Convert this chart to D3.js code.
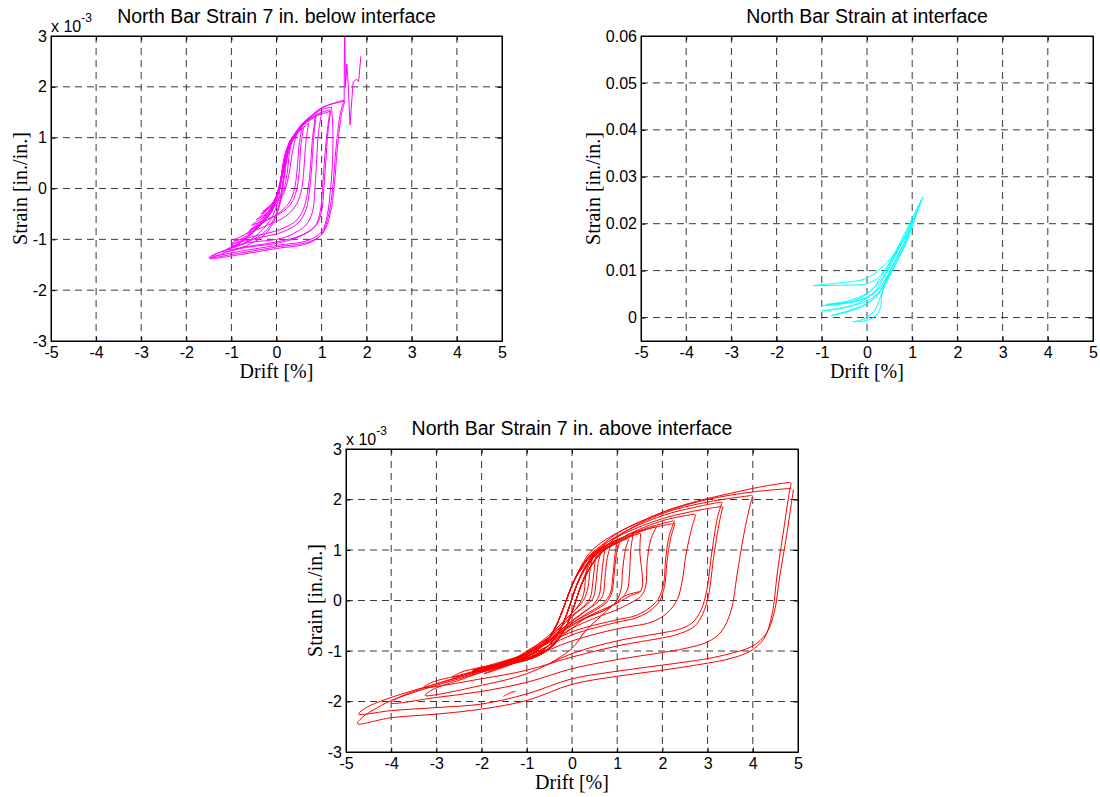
<!DOCTYPE html>
<html><head><meta charset="utf-8">
<script src="https://cdn.jsdelivr.net/npm/d3@7"></script>
<style>body{margin:0;background:#fff;} svg{display:block;}</style>
</head><body>
<svg id="fig" width="1100" height="797"></svg>
<script>
// ---------------- DATA ----------------
// Drift [%] ticks, shared by the three panels
const driftTicks = [-5, -4, -3, -2, -1, 0, 1, 2, 3, 4, 5];
// Strain ticks for panels 1 & 3 (in units of 1e-3, axis multiplier "x 10^-3")
const strainTicksE3 = [-3, -2, -1, 0, 1, 2, 3];
// Strain ticks for panel 2 (in./in.)
const strainTicksInterface = [0, 0.01, 0.02, 0.03, 0.04, 0.05, 0.06];
const panelTitles = ["North Bar Strain 7 in. below interface", "North Bar Strain at interface", "North Bar Strain 7 in. above interface"];
const xLabel = "Drift [%]";
const yLabel = "Strain [in./in.]";

// Panel 1: 7 in. below interface — [drift %, strain x1e-3]
const belowLoops = [
  [[0.3,0.95],[0.22,0.6],[0.17,0.2],[0.1,-0.1],[0.0,-0.25],[-0.15,-0.35],[-0.3,-0.45],[-0.2,-0.38],[-0.05,-0.25],[0.05,-0.05],[0.12,0.3],[0.2,0.7],[0.3,0.95]],
  [[0.35,1.0],[0.28,0.65],[0.22,0.2],[0.14,-0.08],[0.02,-0.25],[-0.15,-0.38],[-0.35,-0.5],[-0.22,-0.42],[-0.06,-0.25],[0.05,-0.02],[0.13,0.35],[0.22,0.72],[0.35,1.0]],
  [[0.45,1.08],[0.36,0.75],[0.28,0.3],[0.2,0.0],[0.1,-0.2],[-0.1,-0.4],[-0.45,-0.62],[-0.3,-0.5],[-0.1,-0.3],[0.05,-0.05],[0.15,0.35],[0.25,0.75],[0.45,1.08]],
  [[0.56,1.18],[0.5,0.85],[0.45,0.3],[0.4,0.0],[0.3,-0.25],[0.1,-0.45],[-0.2,-0.62],[-0.6,-0.82],[-0.4,-0.68],[-0.15,-0.42],[0.0,-0.15],[0.12,0.25],[0.25,0.75],[0.4,1.02],[0.56,1.18]],
  [[0.6,1.2],[0.54,0.85],[0.5,0.3],[0.44,-0.05],[0.32,-0.3],[0.1,-0.48],[-0.2,-0.6],[-0.55,-0.72],[-0.35,-0.6],[-0.12,-0.38],[0.02,-0.1],[0.14,0.3],[0.28,0.8],[0.42,1.06],[0.6,1.2]],
  [[0.71,1.28],[0.65,0.9],[0.6,0.3],[0.56,0.0],[0.45,-0.3],[0.2,-0.55],[-0.2,-0.72],[-0.65,-0.88],[-0.4,-0.72],[-0.15,-0.45],[0.02,-0.15],[0.13,0.25],[0.26,0.78],[0.45,1.08],[0.71,1.28]],
  [[0.86,1.41],[0.8,1.0],[0.74,0.3],[0.7,0.0],[0.62,-0.35],[0.45,-0.62],[0.1,-0.8],[-0.4,-0.92],[-0.95,-1.02],[-0.65,-0.88],[-0.3,-0.62],[-0.05,-0.3],[0.08,0.1],[0.2,0.7],[0.35,1.0],[0.6,1.25],[0.86,1.41]],
  [[0.88,1.44],[0.83,1.05],[0.77,0.3],[0.73,-0.05],[0.66,-0.4],[0.5,-0.66],[0.15,-0.85],[-0.4,-0.97],[-1.0,-1.08],[-0.7,-0.95],[-0.35,-0.68],[-0.07,-0.32],[0.07,0.1],[0.2,0.68],[0.38,1.04],[0.62,1.28],[0.88,1.44]],
  [[1.0,1.48],[0.93,1.1],[0.88,0.4],[0.85,0.0],[0.8,-0.45],[0.65,-0.72],[0.3,-0.92],[0.0,-1.0],[-0.5,-1.05],[-1.0,-1.12],[-0.7,-0.98],[-0.35,-0.7],[-0.08,-0.4],[0.06,0.0],[0.18,0.6],[0.35,1.0],[0.65,1.32],[1.0,1.48]],
  [[1.19,1.55],[1.12,1.1],[1.06,0.5],[1.02,0.0],[0.97,-0.45],[0.85,-0.75],[0.5,-0.95],[0.0,-1.08],[-0.6,-1.15],[-1.2,-1.25],[-0.9,-1.12],[-0.5,-0.85],[-0.1,-0.45],[0.06,0.0],[0.18,0.6],[0.35,1.0],[0.7,1.38],[1.19,1.55]],
  [[1.2,1.52],[1.14,1.1],[1.09,0.5],[1.05,0.0],[1.0,-0.45],[0.88,-0.72],[0.55,-0.92],[0.0,-1.05],[-0.5,-1.12],[-1.1,-1.2],[-0.8,-1.06],[-0.45,-0.8],[-0.1,-0.42],[0.06,0.0],[0.18,0.62],[0.36,1.02],[0.72,1.36],[1.2,1.52]],
  [[1.22,1.6],[1.25,1.2],[1.24,0.5],[1.2,0.0],[1.12,-0.55],[1.0,-0.85],[0.7,-1.02],[0.0,-1.12],[-0.7,-1.22],[-1.45,-1.33],[-1.1,-1.2],[-0.6,-1.02],[-0.2,-0.7],[0.02,-0.3],[0.12,0.3],[0.3,0.85],[0.6,1.3],[1.0,1.55],[1.22,1.6]],
  [[1.5,1.74],[1.42,1.5],[1.32,0.8],[1.25,0.05],[1.16,-0.5],[1.0,-0.9],[0.7,-1.08],[0.0,-1.18],[-0.8,-1.3],[-1.48,-1.38],[-1.1,-1.25],[-0.6,-1.1],[-0.2,-0.85],[0.05,-0.4],[0.15,0.15],[0.3,0.82],[0.45,1.08],[0.7,1.36],[1.0,1.58],[1.5,1.74]],
  [[1.52,1.72],[1.45,1.5],[1.35,0.8],[1.28,0.05],[1.19,-0.5],[1.03,-0.88],[0.72,-1.05],[0.0,-1.15],[-0.8,-1.27],[-1.5,-1.36],[-1.15,-1.22],[-0.65,-1.06],[-0.22,-0.82],[0.04,-0.38],[0.15,0.18],[0.3,0.85],[0.47,1.1],[0.72,1.38],[1.02,1.6],[1.52,1.72]]
];
// End of the record (gauge jumps), drawn with straight segments
const belowSpike = [[1.5,1.74],[1.51,3.3],[1.53,2.0],[1.56,2.45],[1.59,2.05],[1.63,1.25],[1.7,2.1],[1.78,2.15],[1.82,2.1],[1.87,2.6]];

// Panel 2: at interface — [drift %, strain in./in.]
const interfaceLoops = [
  [[-1.2,0.0068],[-0.6,0.0074],[-0.05,0.0082],[0.3,0.0104],[0.6,0.0135],[0.9,0.018],[1.23,0.0256]],
  [[-1.18,0.0068],[-0.5,0.0069],[0.0,0.0072],[0.25,0.0086],[0.5,0.0116],[0.8,0.0165],[1.05,0.0215],[1.23,0.0256]],
  [[1.23,0.0256],[1.0,0.0212],[0.75,0.0163],[0.5,0.0117],[0.3,0.0085],[0.1,0.0058],[-0.3,0.0036],[-1.02,0.0025]],
  [[-1.02,0.0025],[-0.5,0.003],[0.0,0.0042],[0.3,0.0066],[0.55,0.0105],[0.8,0.0155],[1.0,0.0195],[1.2,0.025]],
  [[1.1,0.0225],[0.85,0.0177],[0.6,0.0126],[0.35,0.0081],[0.1,0.0049],[-0.3,0.0026],[-1.0,0.0014]],
  [[-1.0,0.0014],[-0.5,0.0022],[0.0,0.0035],[0.3,0.0058],[0.55,0.0098],[0.8,0.0148],[1.05,0.0205]],
  [[1.0,0.0196],[0.78,0.015],[0.55,0.0104],[0.35,0.0066],[0.1,0.0036],[-0.3,0.0016],[-0.8,0.0004]],
  [[-0.8,0.0004],[-0.4,0.0015],[0.0,0.003],[0.25,0.005],[0.5,0.009],[0.75,0.0135],[0.95,0.0176]],
  [[0.8,0.0155],[0.6,0.0116],[0.42,0.0077],[0.32,0.0044],[0.31,0.0025],[0.2,0.0005],[0.0,-0.0006],[-0.32,-0.0009]],
  [[-0.32,-0.0009],[-0.1,-0.0004],[0.15,0.0013],[0.3,0.0045],[0.45,0.0085],[0.65,0.0126],[0.9,0.0172]],
  [[0.7,0.0135],[0.5,0.0098],[0.3,0.0066],[0.0,0.0044],[-0.4,0.0032],[-0.9,0.0028]],
  [[-0.9,0.0028],[-0.4,0.0036],[0.0,0.0052],[0.3,0.0078],[0.5,0.0112],[0.75,0.016]]
];

// Panel 3: 7 in. above interface — [drift %, strain x1e-3]
const aboveLoops = [
  [[4.85,2.33],[4.8,2.1],[4.7,1.5],[4.55,0.6],[4.42,-0.3],[4.25,-0.75],[3.95,-1.0],[3.5,-1.15],[3.0,-1.24],[2.0,-1.38],[1.0,-1.5],[0.0,-1.66],[-1.0,-1.98],[-2.0,-2.15],[-3.0,-2.25],[-4.0,-2.32],[-4.75,-2.44],[-4.62,-2.3],[-4.3,-2.12],[-4.0,-1.98],[-3.5,-1.82],[-3.0,-1.68],[-2.5,-1.55],[-2.0,-1.42],[-1.5,-1.3],[-1.0,-1.15],[-0.55,-0.92],[-0.25,-0.55],[-0.05,-0.1],[0.1,0.3],[0.3,0.68],[0.55,1.0],[1.0,1.33],[1.5,1.55],[2.0,1.75],[2.5,1.9],[3.0,2.02],[3.5,2.12],[4.0,2.22],[4.5,2.3],[4.83,2.34]],
  [[4.9,2.2],[4.85,1.9],[4.75,1.3],[4.6,0.5],[4.47,-0.25],[4.3,-0.65],[4.0,-0.9],[3.5,-1.05],[3.0,-1.15],[2.0,-1.28],[1.0,-1.4],[0.0,-1.55],[-1.0,-1.85],[-2.0,-2.05],[-3.0,-2.12],[-4.0,-2.18],[-4.72,-2.25],[-4.55,-2.12],[-4.0,-1.92],[-3.0,-1.65],[-2.0,-1.4],[-1.1,-1.15],[-0.68,-0.92],[-0.38,-0.55],[-0.17,-0.1],[0.0,0.3],[0.2,0.68],[0.45,1.0],[1.0,1.34],[2.0,1.74],[3.0,2.0],[4.0,2.15],[4.85,2.22]],
  [[4.0,2.08],[3.93,1.85],[3.8,1.3],[3.65,0.5],[3.52,-0.2],[3.3,-0.62],[3.0,-0.82],[2.5,-0.95],[2.0,-1.03],[1.0,-1.17],[0.0,-1.35],[-1.0,-1.62],[-2.0,-1.8],[-3.0,-1.92],[-4.0,-2.03],[-3.85,-1.93],[-3.5,-1.8],[-3.0,-1.65],[-2.0,-1.38],[-0.9,-1.15],[-0.45,-0.92],[-0.15,-0.55],[0.05,-0.1],[0.2,0.3],[0.4,0.66],[0.65,0.98],[1.1,1.32],[2.0,1.72],[3.0,1.95],[3.98,2.08]],
  [[3.32,1.95],[3.22,1.65],[3.1,1.0],[2.98,0.2],[2.86,-0.18],[2.65,-0.45],[2.33,-0.58],[2.0,-0.64],[1.0,-0.8],[0.0,-1.05],[-1.0,-1.45],[-2.0,-1.68],[-3.25,-1.88],[-3.05,-1.75],[-2.5,-1.58],[-2.0,-1.42],[-1.0,-1.15],[-0.55,-0.92],[-0.25,-0.55],[-0.05,-0.1],[0.1,0.3],[0.3,0.65],[0.55,0.97],[1.0,1.28],[2.0,1.68],[3.0,1.9],[3.3,1.95]],
  [[3.34,1.86],[3.26,1.55],[3.14,0.9],[3.02,0.1],[2.9,-0.25],[2.7,-0.52],[2.3,-0.68],[2.0,-0.74],[1.0,-0.9],[0.0,-1.12],[-1.0,-1.38],[-2.0,-1.55],[-3.28,-1.72],[-3.1,-1.62],[-2.5,-1.48],[-2.0,-1.36],[-1.1,-1.15],[-0.68,-0.92],[-0.38,-0.55],[-0.17,-0.1],[0.0,0.3],[0.2,0.65],[0.45,0.95],[1.0,1.26],[2.0,1.62],[3.0,1.82],[3.32,1.86]],
  [[2.74,1.71],[2.64,1.4],[2.52,0.9],[2.44,0.4],[2.33,0.02],[2.1,-0.25],[1.75,-0.43],[1.0,-0.56],[0.0,-0.8],[-1.0,-1.15],[-2.0,-1.38],[-2.65,-1.52],[-2.45,-1.42],[-2.0,-1.32],[-0.9,-1.15],[-0.45,-0.92],[-0.15,-0.55],[0.05,-0.1],[0.2,0.3],[0.4,0.65],[0.65,0.95],[1.1,1.24],[2.0,1.58],[2.72,1.71]],
  [[2.27,1.58],[2.15,1.28],[2.07,0.8],[2.03,0.35],[1.9,0.02],[1.66,-0.18],[1.37,-0.31],[1.0,-0.38],[0.0,-0.62],[-1.0,-1.05],[-2.2,-1.4],[-2.0,-1.33],[-1.0,-1.15],[-0.55,-0.92],[-0.25,-0.55],[-0.05,-0.1],[0.1,0.3],[0.3,0.65],[0.55,0.95],[1.0,1.2],[1.6,1.42],[2.25,1.58]],
  [[2.28,1.53],[2.18,1.22],[2.1,0.75],[2.05,0.3],[1.93,-0.02],[1.7,-0.22],[1.4,-0.35],[1.0,-0.43],[0.0,-0.68],[-1.0,-1.1],[-2.22,-1.44],[-2.0,-1.36],[-1.1,-1.15],[-0.68,-0.92],[-0.38,-0.55],[-0.17,-0.1],[0.0,0.3],[0.2,0.65],[0.45,0.93],[1.0,1.2],[1.6,1.4],[2.27,1.53]],
  [[1.87,1.46],[1.74,1.2],[1.66,0.74],[1.63,0.28],[1.52,0.08],[1.29,-0.05],[1.0,-0.18],[0.5,-0.35],[0.0,-0.55],[-0.5,-0.82],[-1.0,-1.05],[-2.2,-1.38],[-1.8,-1.3],[-0.9,-1.15],[-0.45,-0.92],[-0.15,-0.55],[0.05,-0.1],[0.2,0.3],[0.4,0.65],[0.65,0.95],[1.1,1.2],[1.5,1.36],[1.85,1.46]],
  [[1.52,1.33],[1.5,1.0],[1.53,0.2],[1.3,0.1],[1.0,-0.05],[0.5,-0.25],[0.0,-0.48],[-0.5,-0.78],[-1.0,-1.05],[-2.2,-1.42],[-1.8,-1.32],[-1.0,-1.15],[-0.55,-0.92],[-0.25,-0.55],[-0.05,-0.1],[0.1,0.3],[0.3,0.65],[0.55,0.93],[1.0,1.16],[1.5,1.33]],
  [[1.35,1.3],[1.3,1.0],[1.27,0.5],[1.22,0.2],[1.05,0.0],[0.7,-0.2],[0.3,-0.35],[0.0,-0.55],[-0.5,-0.88],[-1.0,-1.12],[-1.95,-1.45],[-1.6,-1.35],[-1.1,-1.17],[-0.68,-0.92],[-0.38,-0.55],[-0.17,-0.1],[0.0,0.3],[0.2,0.65],[0.45,0.93],[1.0,1.18],[1.35,1.3]],
  [[1.26,1.23],[1.18,1.0],[1.12,0.6],[1.08,0.2],[0.95,-0.05],[0.7,-0.2],[0.3,-0.35],[0.0,-0.5],[-0.5,-0.8],[-1.0,-1.05],[-2.0,-1.38],[-1.7,-1.3],[-0.9,-1.13],[-0.45,-0.9],[-0.15,-0.55],[0.05,-0.1],[0.2,0.3],[0.4,0.65],[0.7,0.98],[1.24,1.23]],
  [[1.05,1.15],[0.98,0.9],[0.93,0.5],[0.88,0.15],[0.75,-0.05],[0.5,-0.2],[0.0,-0.45],[-0.5,-0.78],[-1.0,-1.05],[-1.8,-1.35],[-1.5,-1.28],[-1.0,-1.15],[-0.55,-0.92],[-0.25,-0.55],[-0.05,-0.1],[0.1,0.3],[0.3,0.65],[0.6,0.95],[1.03,1.15]],
  [[1.0,1.2],[0.95,0.9],[0.9,0.45],[0.85,0.15],[0.7,-0.05],[0.4,-0.22],[0.0,-0.45],[-0.5,-0.8],[-1.0,-1.08],[-1.6,-1.3],[-2.2,-1.42],[-1.9,-1.35],[-1.4,-1.25],[-1.1,-1.16],[-0.68,-0.92],[-0.38,-0.55],[-0.17,-0.1],[0.0,0.3],[0.2,0.65],[0.5,0.95],[1.0,1.2]],
  [[0.85,1.08],[0.78,0.85],[0.73,0.45],[0.68,0.1],[0.55,-0.05],[0.3,-0.2],[0.0,-0.4],[-0.5,-0.75],[-1.0,-1.02],[-1.6,-1.3],[-1.3,-1.22],[-0.9,-1.12],[-0.45,-0.9],[-0.15,-0.55],[0.05,-0.1],[0.2,0.3],[0.4,0.65],[0.6,0.9],[0.83,1.08]],
  [[0.75,1.1],[0.7,0.85],[0.65,0.45],[0.6,0.1],[0.45,-0.1],[0.2,-0.28],[-0.2,-0.55],[-0.6,-0.85],[-1.2,-1.15],[-2.1,-1.35],[-1.7,-1.28],[-1.0,-1.15],[-0.55,-0.92],[-0.25,-0.55],[-0.05,-0.1],[0.1,0.3],[0.3,0.65],[0.5,0.92],[0.75,1.1]],
  [[0.65,0.98],[0.58,0.75],[0.53,0.35],[0.47,0.05],[0.3,-0.1],[0.0,-0.32],[-0.5,-0.72],[-1.0,-1.0],[-1.4,-1.25],[-1.1,-1.17],[-0.68,-0.92],[-0.38,-0.55],[-0.17,-0.1],[0.0,0.3],[0.2,0.62],[0.4,0.85],[0.63,0.98]],
  [[0.55,0.98],[0.5,0.7],[0.46,0.35],[0.4,0.05],[0.25,-0.12],[0.0,-0.3],[-0.4,-0.65],[-1.0,-1.05],[-1.5,-1.25],[-2.0,-1.4],[-1.6,-1.3],[-0.9,-1.13],[-0.45,-0.9],[-0.15,-0.55],[0.05,-0.1],[0.2,0.3],[0.38,0.7],[0.55,0.98]],
  [[0.45,0.85],[0.4,0.6],[0.35,0.25],[0.25,0.0],[0.0,-0.25],[-0.5,-0.68],[-1.2,-1.2],[-1.0,-1.15],[-0.55,-0.92],[-0.25,-0.55],[-0.05,-0.1],[0.1,0.3],[0.25,0.6],[0.44,0.85]],
  [[0.35,0.75],[0.3,0.45],[0.25,0.1],[0.1,-0.15],[-0.2,-0.42],[-0.6,-0.8],[-1.2,-1.15],[-1.8,-1.32],[-1.4,-1.25],[-1.1,-1.16],[-0.68,-0.92],[-0.38,-0.55],[-0.17,-0.1],[0.0,0.3],[0.15,0.55],[0.35,0.75]],
  [[-0.5,-1.25],[0.0,-0.95],[0.3,-0.6],[0.63,-0.32],[1.0,-0.02],[1.22,0.11],[1.53,0.18]],
  [[-1.52,-1.9],[-1.38,-1.83],[-1.25,-1.8]]
];

// ---------------- DRAWING ----------------
const svg = d3.select("#fig");
const SANS = "'Liberation Sans', Arial, Helvetica, sans-serif";
const SERIF = "'Liberation Serif', 'Times New Roman', Times, serif";

const panels = [
  {left:51, top:36, width:451, height:305, yDomain:[-3,3], yTicks:strainTicksE3, fmt:d=>String(d),
   color:"#ff00ff", loops:belowLoops, extra:belowSpike, title:panelTitles[0], exponent:true, titleY:23, yLabelX:27},
  {left:641, top:36, width:452, height:305, yDomain:[-0.005,0.06], yTicks:strainTicksInterface, fmt:d=>d===0?"0":d.toFixed(2),
   color:"#00ffff", loops:interfaceLoops, extra:null, title:panelTitles[1], exponent:false, titleY:23, yLabelX:600},
  {left:346, top:449, width:452, height:303, yDomain:[-3,3], yTicks:strainTicksE3, fmt:d=>String(d),
   color:"#ff0000", loops:aboveLoops, extra:null, title:panelTitles[2], exponent:true, titleY:435, yLabelX:322}
];

panels.forEach((p, i) => {
  const x = d3.scaleLinear().domain([-5, 5]).range([p.left, p.left + p.width]);
  const y = d3.scaleLinear().domain(p.yDomain).range([p.top + p.height, p.top]);
  const g = svg.append("g");

  // grid (dashed)
  const grid = g.append("g").attr("stroke", "#3a3a3a").attr("stroke-width", 1).attr("stroke-dasharray", "7,5");
  grid.selectAll("line.v").data(driftTicks.filter(d => d > -5 && d < 5)).join("line")
    .attr("x1", d => x(d)).attr("x2", d => x(d)).attr("y1", p.top).attr("y2", p.top + p.height);
  grid.selectAll("line.h").data(p.yTicks.filter(d => y(d) > p.top + 0.5 && y(d) < p.top + p.height - 0.5)).join("line")
    .attr("y1", d => y(d)).attr("y2", d => y(d)).attr("x1", p.left).attr("x2", p.left + p.width);

  // data lines
  const clipId = "clip" + i;
  svg.append("clipPath").attr("id", clipId).append("rect")
    .attr("x", p.left).attr("y", p.top).attr("width", p.width).attr("height", p.height);
  const lineGen = d3.line().x(d => x(d[0])).y(d => y(d[1])).curve(d3.curveCatmullRom.alpha(0.5));
  const dg = g.append("g").attr("clip-path", `url(#${clipId})`);
  dg.selectAll("path.loop").data(p.loops).join("path")
    .attr("d", lineGen).attr("fill", "none").attr("stroke", p.color).attr("stroke-width", 1);
  if (p.extra) {
    dg.append("path").attr("d", d3.line().x(d => x(d[0])).y(d => y(d[1]))(p.extra))
      .attr("fill", "none").attr("stroke", p.color).attr("stroke-width", 1);
  }

  // axes (inward ticks on all four sides)
  const tk = 4.5;
  const axB = g.append("g").attr("transform", `translate(0,${p.top + p.height})`)
    .call(d3.axisBottom(x).tickValues(driftTicks).tickSizeInner(-tk).tickSizeOuter(0).tickPadding(6).tickFormat(d => String(d)));
  const axT = g.append("g").attr("transform", `translate(0,${p.top})`)
    .call(d3.axisTop(x).tickValues(driftTicks).tickSizeInner(-tk).tickSizeOuter(0).tickFormat(""));
  const axL = g.append("g").attr("transform", `translate(${p.left},0)`)
    .call(d3.axisLeft(y).tickValues(p.yTicks).tickSizeInner(-tk).tickSizeOuter(0).tickPadding(4).tickFormat(p.fmt));
  const axR = g.append("g").attr("transform", `translate(${p.left + p.width},0)`)
    .call(d3.axisRight(y).tickValues(p.yTicks).tickSizeInner(-tk).tickSizeOuter(0).tickFormat(""));
  [axB, axT, axL, axR].forEach(a => {
    a.selectAll("path.domain").attr("stroke", "#000").attr("stroke-width", 1);
    a.selectAll(".tick line").attr("stroke", "#000");
    a.selectAll("text").attr("fill", "#000").style("font-family", SANS).style("font-size", "16px");
  });
  // box
  g.append("rect").attr("x", p.left).attr("y", p.top).attr("width", p.width).attr("height", p.height)
    .attr("fill", "none").attr("stroke", "#000").attr("stroke-width", 1);

  // title
  g.append("text").attr("x", p.left + p.width / 2).attr("y", p.titleY).attr("text-anchor", "middle")
    .style("font-family", SANS).style("font-size", "19.5px").attr("fill", "#000").text(p.title);
  // x label
  g.append("text").attr("x", p.left + p.width / 2).attr("y", p.top + p.height + 37).attr("text-anchor", "middle")
    .style("font-family", SERIF).style("font-size", "20px").attr("fill", "#000").text(xLabel);
  // y label
  g.append("text").attr("transform", `translate(${p.yLabelX},${p.top + p.height / 2}) rotate(-90)`).attr("text-anchor", "middle")
    .style("font-family", SERIF).style("font-size", "20px").attr("fill", "#000").text(yLabel);
  // exponent
  if (p.exponent) {
    const t = g.append("text").attr("x", p.left).attr("y", p.top - 4.5)
      .style("font-family", SANS).style("font-size", "16px").attr("fill", "#000");
    t.append("tspan").text("x 10");
    t.append("tspan").attr("dy", -10).style("font-size", "12px").text("-3");
  }
});
</script>
</body></html>
